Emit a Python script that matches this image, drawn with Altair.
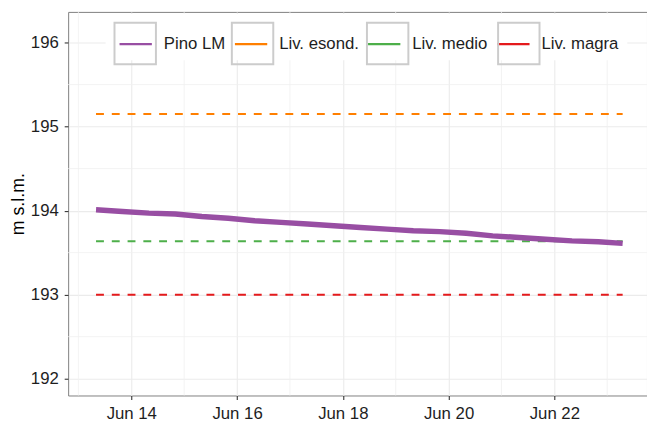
import altair as alt
import pandas as pd

# ---- data -------------------------------------------------------------
dates = [
    "2020-06-13T08:00", "2020-06-13T20:00", "2020-06-14T08:00", "2020-06-14T20:00",
    "2020-06-15T08:00", "2020-06-15T20:00", "2020-06-16T08:00", "2020-06-16T20:00",
    "2020-06-17T08:00", "2020-06-17T20:00", "2020-06-18T08:00", "2020-06-18T20:00",
    "2020-06-19T08:00", "2020-06-19T20:00", "2020-06-20T08:00", "2020-06-20T20:00",
    "2020-06-21T08:00", "2020-06-21T20:00", "2020-06-22T08:00", "2020-06-22T20:00",
    "2020-06-23T07:00",
]
pino_lm = [
    194.01, 193.99, 193.97, 193.96,
    193.93, 193.91, 193.88, 193.86,
    193.84, 193.82, 193.80, 193.78,
    193.76, 193.75, 193.73, 193.70,
    193.68, 193.66, 193.64, 193.63,
    193.61,
]
ref_names = ["Liv. esond.", "Liv. medio", "Liv. magra"]
ref_levels = [195.15, 193.635, 193.0]
series = ["Pino LM", "Liv. esond.", "Liv. medio", "Liv. magra"]
series_colors = ["#984EA3", "#FF7F00", "#4DAF4A", "#E41A1C"]
x_tick_days = [14, 16, 18, 20, 22]
x_minor_days = [13, 15, 17, 19, 21, 23]
y_ticks = [192, 193, 194, 195, 196]
y_minor = [192.5, 193.5, 194.5, 195.5]

# ---- tables -----------------------------------------------------------
pino_df = pd.DataFrame({"date": dates, "level": pino_lm, "serie": "Pino LM"})
ref_rows = []
for name, lev in zip(ref_names, ref_levels):
    for d in (dates[0], dates[-1]):
        ref_rows.append({"date": d, "level": lev, "serie": name})
ref_df = pd.DataFrame(ref_rows)
xminor_df = pd.DataFrame({"date": [f"2020-06-{d:02d}T00:00" for d in x_minor_days]})
yminor_df = pd.DataFrame({"level": y_minor})
box_df = pd.DataFrame({"voce": [s + " " for s in series]})

FONT = "Liberation Sans"
TXT = "#1e1e1e"

x_scale = alt.Scale(domain=[
    alt.DateTime(year=2020, month=6, date=12, hours=19, minutes=21),
    alt.DateTime(year=2020, month=6, date=23, hours=18, minutes=3),
])
y_scale = alt.Scale(domain=[191.80, 196.365], nice=False, zero=False)
color_scale = alt.Scale(domain=series, range=series_colors)

x_axis = alt.Axis(
    values=[alt.DateTime(year=2020, month=6, date=d) for d in x_tick_days],
    format="%b %d", title=None, labelPadding=6,
)
y_axis = alt.Axis(values=y_ticks, format="d", title="m s.l.m.", labelPadding=6,
                  titlePadding=3)

legend_common = dict(
    orient="none", legendX=38, legendY=2, direction="horizontal", title=None,
    symbolSize=1764, labelFont=FONT, labelFontSize=17, labelColor=TXT,
    labelOffset=6, columnPadding=3, padding=8,
)

color_legend = alt.Legend(
    symbolType="M-0.78,0H0.78", symbolStrokeWidth=2.2, symbolDash=[100, 0],
    fillColor="white", **legend_common,
)

X = alt.X("date:T", scale=x_scale, axis=x_axis)
Y = alt.Y("level:Q", scale=y_scale, axis=y_axis)

minor_x = alt.Chart(xminor_df).mark_rule(color="#f0f0f0", strokeWidth=0.8).encode(x=X)
minor_y = alt.Chart(yminor_df).mark_rule(color="#f0f0f0", strokeWidth=0.8).encode(y=Y)

refs = alt.Chart(ref_df).mark_line(strokeDash=[8, 8], strokeWidth=2).encode(
    x=X, y=Y,
    color=alt.Color("serie:N", scale=color_scale, legend=color_legend),
    detail="serie:N",
)
pino = alt.Chart(pino_df).mark_line(strokeWidth=5.5).encode(
    x=X, y=Y,
    color=alt.Color("serie:N", scale=color_scale, legend=color_legend),
)

boxes = alt.Chart(box_df).transform_filter("false").mark_point(
    filled=False, color="#cccccc", strokeWidth=2
).encode(
    shape=alt.Shape(
        "voce:N",
        scale=alt.Scale(domain=[s + " " for s in series], range=["square"] * 4),
        legend=alt.Legend(
            symbolStrokeColor="#cccccc", symbolStrokeWidth=2,
            symbolFillColor="transparent", symbolOpacity=1,
            labelExpr="trim(datum.label)", labelOpacity=0,
            **legend_common,
        ),
    )
)

chart = alt.layer(minor_x, minor_y, refs, pino, boxes).properties(
    width=587, height=389,
    autosize=alt.AutoSizeParams(type="none"),
    padding={"left": 61, "top": 1, "right": 0, "bottom": 30},
).configure_view(
    stroke="#7f7f7f", strokeWidth=1
).configure_axis(
    domain=False, grid=True, gridColor="#ebebeb", gridWidth=1.1,
    tickColor="#333333", tickWidth=1.1, tickSize=4,
    labelFont=FONT, labelFontSize=17, labelColor=TXT,
    titleFont=FONT, titleFontSize=18, titleColor="#000000", titleFontWeight="normal",
)

chart.save("out.html", embed_options={"renderer": "svg", "actions": False})
